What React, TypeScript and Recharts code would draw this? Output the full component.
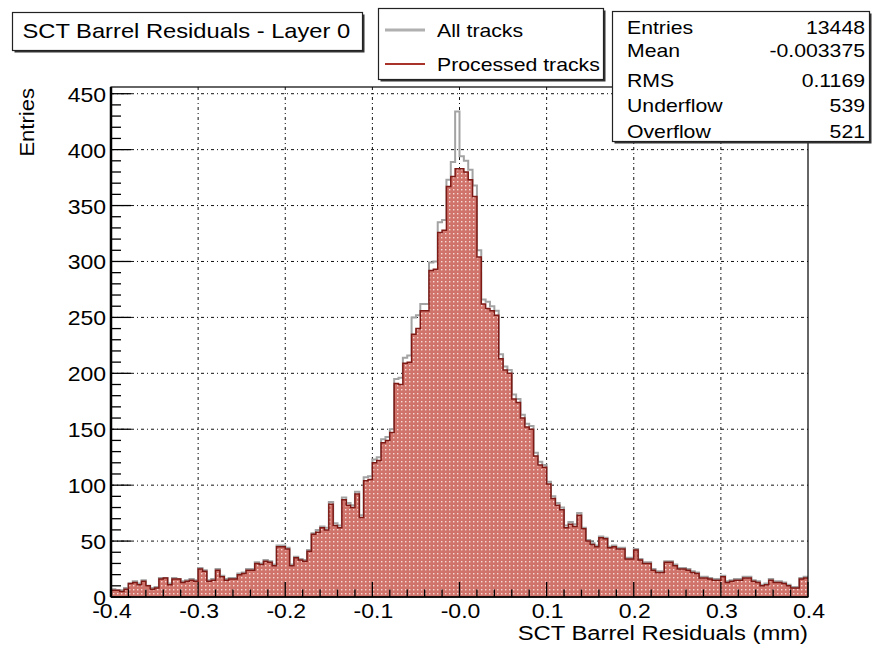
import { ComposedChart, Area, XAxis, YAxis, CartesianGrid } from 'recharts'

// histogram binning: 160 bins of 0.005 mm between -0.4 and 0.4 mm
const BIN_LOW = -0.4
const BIN_HIGH = 0.4
const BIN_WIDTH = 0.005

// bin contents, all reconstructed tracks
const allTracks = [
  7, 6, 6, 8, 12, 14, 12, 15, 10, 8,
  9, 17, 17, 12, 17, 16, 14, 15, 16, 15,
  26, 24, 15, 16, 25, 19, 16, 17, 17, 21,
  22, 25, 25, 31, 30, 33, 32, 29, 46, 46,
  44, 29, 36, 34, 33, 42, 57, 60, 63, 62,
  85, 66, 64, 89, 84, 82, 94, 73, 107, 108,
  123, 125, 141, 143, 150, 195, 196, 214, 216, 250,
  252, 262, 262, 299, 300, 335, 337, 373, 389, 434,
  394, 390, 382, 368, 310, 266, 264, 260, 256, 217,
  206, 203, 181, 177, 163, 155, 153, 129, 121, 118,
  103, 90, 84, 80, 64, 67, 65, 75, 62, 51,
  48, 46, 54, 53, 45, 46, 44, 44, 35, 35,
  43, 34, 31, 31, 25, 23, 23, 32, 32, 29,
  26, 26, 25, 23, 22, 18, 18, 17, 16, 16,
  19, 14, 15, 16, 16, 18, 18, 15, 14, 11,
  12, 16, 14, 14, 13, 11, 9, 9, 17, 18,
]

// bin contents, processed tracks only
const processedTracks = [
  6, 6, 5, 7, 12, 13, 11, 14, 10, 7,
  8, 16, 17, 11, 16, 16, 13, 14, 15, 14,
  25, 23, 14, 15, 24, 18, 15, 16, 16, 20,
  21, 24, 24, 30, 29, 32, 31, 28, 45, 45,
  43, 28, 35, 33, 32, 41, 56, 58, 62, 60,
  83, 64, 62, 87, 82, 80, 92, 71, 104, 105,
  120, 122, 138, 140, 147, 191, 190, 209, 210, 235,
  240, 256, 256, 292, 293, 326, 328, 367, 376, 383,
  383, 380, 373, 358, 304, 262, 258, 256, 252, 213,
  203, 200, 177, 174, 160, 152, 150, 126, 118, 116,
  101, 88, 82, 78, 62, 65, 63, 73, 61, 50,
  47, 45, 53, 52, 44, 45, 43, 43, 34, 34,
  42, 33, 30, 30, 24, 22, 22, 31, 31, 28,
  25, 25, 24, 22, 21, 17, 17, 16, 15, 15,
  18, 13, 14, 15, 15, 17, 17, 14, 13, 10,
  11, 15, 13, 13, 12, 10, 8, 8, 16, 17,
]

const X_MAJOR = [-0.4, -0.3, -0.2, -0.1, 0, 0.1, 0.2, 0.3, 0.4]
const X_LABELS = ['-0.4', '-0.3', '-0.2', '-0.1', '-0.0', '0.1', '0.2', '0.3', '0.4']
const X_GRID = [-0.3, -0.2, -0.1, 0, 0.1, 0.2, 0.3]
const Y_MAJOR = [0, 50, 100, 150, 200, 250, 300, 350, 400, 450]
const Y_GRID = [50, 100, 150, 200, 250, 300, 350, 400, 450]
const Y_MAX = 456

const TITLE = 'SCT Barrel Residuals - Layer 0'
const X_TITLE = 'SCT Barrel Residuals (mm)'
const Y_TITLE = 'Entries'
const SERIES_NAMES = ['All tracks', 'Processed tracks']
const STAT_LABELS = ['Entries', 'Mean', 'RMS', 'Underflow', 'Overflow']
const STAT_VALUES = ['13448', '-0.003375', '0.1169', '539', '521']

const W = 873
const H = 646
const PLOT_LEFT = 111
const PLOT_TOP = 87
const PLOT_RIGHT = 808
const PLOT_BOTTOM = 597
const FONT = '"Liberation Sans", Arial, Helvetica, sans-serif'

// minor ticks: 5 per major division on x, every 10 entries on y
const xTicks: number[] = []
for (let i = 0; i < X_MAJOR.length - 1; i++) {
  for (let k = 0; k < 5; k++) {
    xTicks.push(Math.round((X_MAJOR[i] + (k * (X_MAJOR[i + 1] - X_MAJOR[i])) / 5) * 1000) / 1000)
  }
}
xTicks.push(X_MAJOR[X_MAJOR.length - 1])

const yTicks: number[] = []
for (let v = 0; v <= 450; v += 10) yTicks.push(v)

// step rows on bin low edges, closed with the upper edge
const rows = processedTracks.map((p, i) => ({
  x: Math.round((BIN_LOW + i * BIN_WIDTH) * 10000) / 10000,
  all: allTracks[i],
  proc: p,
}))
rows.push({ x: BIN_HIGH, all: allTracks[allTracks.length - 1], proc: processedTracks[processedTracks.length - 1] })

interface LabelProps {
  x: number
  y: number
  size?: number
  sx?: number
  anchor?: 'start' | 'middle' | 'end'
  rotate?: number
  children: React.ReactNode
}

// Helvetica-ish text, stretched a little wider like the ROOT canvas output
function Label({ x, y, size = 21, sx = 1.12, anchor = 'start', rotate = 0, children }: LabelProps) {
  const t = `translate(${x} ${y})${rotate ? ` rotate(${rotate})` : ''} scale(${sx} 1)`
  return (
    <text transform={t} fontSize={size} fontFamily={FONT} textAnchor={anchor} fill="#000">
      {children}
    </text>
  )
}

function XTick(props: any) {
  const { x, payload } = props
  const idx = X_MAJOR.findIndex((m) => Math.abs(m - payload.value) < 1e-6)
  const major = idx >= 0
  return (
    <g>
      <line x1={x} x2={x} y1={PLOT_BOTTOM} y2={PLOT_BOTTOM - (major ? 15 : 7.5)} stroke="#000" strokeWidth={1.3} />
      {major && (
        <Label x={x + 1} y={PLOT_BOTTOM + 21} size={20} anchor="middle" sx={1.15}>
          {X_LABELS[idx]}
        </Label>
      )}
    </g>
  )
}

function YTick(props: any) {
  const { y, payload } = props
  const major = Y_MAJOR.includes(payload.value)
  return (
    <g>
      <line x1={PLOT_LEFT} x2={PLOT_LEFT + (major ? 20 : 10)} y1={y} y2={y} stroke="#000" strokeWidth={1.3} />
      {major && (
        <Label x={PLOT_LEFT - 5} y={y + 8} size={20} anchor="end" sx={1.15}>
          {payload.value}
        </Label>
      )}
    </g>
  )
}

function Box({ x, y, w, h }: { x: number; y: number; w: number; h: number }) {
  return (
    <g>
      <rect x={x + 2} y={y + 2} width={w} height={h} fill="#333" />
      <rect x={x} y={y} width={w} height={h} fill="#fff" stroke="#222" strokeWidth={1.2} />
    </g>
  )
}

function Overlay() {
  const statBase = [33.5, 57, 86.5, 111.5, 138]
  return (
    <svg width={W} height={H} style={{ position: 'absolute', left: 0, top: 0, pointerEvents: 'none' }}>
      <rect
        x={PLOT_LEFT}
        y={PLOT_TOP}
        width={PLOT_RIGHT - PLOT_LEFT}
        height={PLOT_BOTTOM - PLOT_TOP}
        fill="none"
        stroke="#000"
        strokeWidth={1.2}
      />

      <Box x={12.5} y={12.5} w={350} h={38} />
      <Label x={22.5} y={38} sx={1.13}>
        {TITLE}
      </Label>

      <Box x={378.5} y={8.5} w={225} h={71} />
      <line x1={385} x2={425} y1={30} y2={30} stroke="#b0b0b0" strokeWidth={3} />
      <line x1={385} x2={425} y1={64} y2={64} stroke="#a8332b" strokeWidth={2} />
      <Label x={437} y={37} size={18} sx={1.18}>
        {SERIES_NAMES[0]}
      </Label>
      <Label x={437} y={71} size={18} sx={1.18}>
        {SERIES_NAMES[1]}
      </Label>

      <Box x={612.5} y={11.5} w={257} h={130} />
      {STAT_LABELS.map((s, i) => (
        <g key={s}>
          <Label x={627} y={statBase[i]} size={18} sx={1.18}>
            {s}
          </Label>
          <Label x={865} y={statBase[i]} size={18} sx={1.18} anchor="end">
            {STAT_VALUES[i]}
          </Label>
        </g>
      ))}

      <Label x={PLOT_RIGHT} y={640} size={20} anchor="end" sx={1.19}>
        {X_TITLE}
      </Label>
      <Label x={34} y={88} anchor="end" rotate={-90} sx={1.05}>
        {Y_TITLE}
      </Label>
    </svg>
  )
}

export default function App() {
  return (
    <div style={{ position: 'absolute', left: 0, top: 0, width: W, height: H, background: '#fff' }}>
      <ComposedChart
        width={W}
        height={H}
        data={rows}
        margin={{ top: PLOT_TOP, right: W - PLOT_RIGHT, bottom: 0, left: 0 }}
      >
        <defs>
          <pattern id="dotFill" width="4" height="4" patternUnits="userSpaceOnUse">
            <rect width="4" height="4" fill="#d0736b" />
            <rect x="1" y="1" width="1.4" height="1.4" fill="#f7dcd8" />
          </pattern>
        </defs>
        <CartesianGrid
          horizontalValues={Y_GRID}
          verticalValues={X_GRID}
          stroke="#111"
          strokeDasharray="3 3 1 3"
          strokeWidth={1}
        />
        <Area
          dataKey="all"
          name={SERIES_NAMES[0]}
          type="stepAfter"
          stroke="#a3a3a3"
          strokeWidth={2}
          fill="none"
          dot={false}
          activeDot={false}
          isAnimationActive={false}
        />
        <Area
          dataKey="proc"
          name={SERIES_NAMES[1]}
          type="stepAfter"
          stroke="#7d1a16"
          strokeWidth={1.5}
          fill="url(#dotFill)"
          fillOpacity={1}
          dot={false}
          activeDot={false}
          isAnimationActive={false}
        />
        <XAxis
          dataKey="x"
          type="number"
          domain={[BIN_LOW, BIN_HIGH]}
          allowDataOverflow
          ticks={xTicks}
          interval={0}
          tickLine={false}
          tick={XTick}
          axisLine={{ stroke: '#000', strokeWidth: 1.5 }}
          height={H - PLOT_BOTTOM}
        />
        <YAxis
          type="number"
          domain={[0, Y_MAX]}
          allowDataOverflow
          ticks={yTicks}
          interval={0}
          tickLine={false}
          tick={YTick}
          axisLine={{ stroke: '#000', strokeWidth: 2.5 }}
          width={PLOT_LEFT}
        />
      </ComposedChart>
      <Overlay />
    </div>
  )
}
